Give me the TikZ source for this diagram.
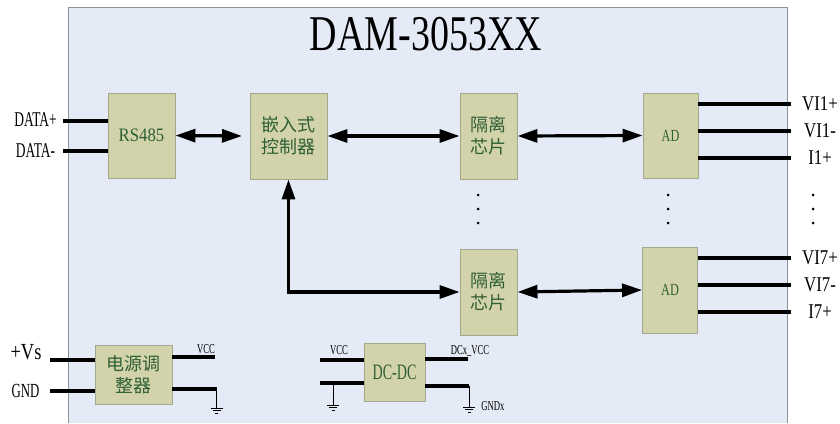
\documentclass[tikz,border=0pt]{standalone}
\usepackage{fontspec}
\setmainfont{Liberation Serif}
\newfontfamily\fnarrow[FakeStretch=0.64]{Liberation Serif}
\newfontfamily\fmid[FakeStretch=0.72]{Liberation Serif}
\newfontfamily\fwide[FakeStretch=0.8]{Liberation Serif}
\newfontfamily\fblk[FakeStretch=0.88]{Liberation Serif}
\newfontfamily\titlefont[FakeStretch=0.76]{Liberation Serif}
\newfontfamily\cjk{Noto Sans CJK SC}
\usetikzlibrary{arrows.meta}
\definecolor{panelfill}{HTML}{E4EBF6}
\definecolor{panelline}{HTML}{8A929C}
\definecolor{boxfill}{HTML}{D3D3AB}
\definecolor{boxline}{HTML}{A2A88C}
\definecolor{boxtext}{HTML}{2F5F34}
\tikzset{
  blk/.style={draw=boxline, fill=boxfill, line width=0.9pt, inner sep=0pt, align=center, text=boxtext},
  cjktext/.style={font=\cjk\fontsize{18}{22}\selectfont},
  lab/.style={font=\fwide\fontsize{21}{23}\selectfont, inner sep=0pt},
  leftlab/.style={font=\fnarrow\fontsize{21}{23}\selectfont, inner sep=0pt},
  smalllab/.style={font=\fnarrow\fontsize{13.5}{15}\selectfont, inner sep=0pt},
  wire/.style={line width=3.2pt},
  thinw/.style={line width=1pt},
  dblarrow/.style={line width=3.2pt, {Triangle[length=20pt,width=13pt]}-{Triangle[length=20pt,width=13pt]}},
}
\newcommand{\gndsym}[2]{%
  \draw[line width=1pt] (#1-6,#2) -- (#1+6,#2);
  \draw[line width=1pt] (#1-4,#2+2.5) -- (#1+4,#2+2.5);
  \draw[line width=1pt] (#1-1.5,#2+5) -- (#1+1.5,#2+5);
}
\begin{document}
\begin{tikzpicture}[x=1pt,y=-1pt]
\useasboundingbox (0,0) rectangle (840,423);
\fill[white] (0,0) rectangle (840,423);
% panel
\fill[panelfill] (68,7) rectangle (787,423);
\draw[panelline, line width=1pt] (68,423) -- (68,7) -- (787,7) -- (787,423);
\node[font=\titlefont\fontsize{50}{52}\selectfont, inner sep=0pt] (title) at (426,34) {DAM-3053XX};

% blocks
\node[blk, font=\fblk\fontsize{19}{21}\selectfont, minimum width=67pt, minimum height=85pt] (rs) at (141.5,135.5) {RS485};
\node[blk, cjktext, minimum width=77pt, minimum height=86pt] (ctrl) at (288.5,136) {嵌入式\\控制器};
\node[blk, cjktext, minimum width=57pt, minimum height=86pt] (iso1) at (488.5,136) {隔离\\芯片};
\node[blk, font=\fmid\fontsize{17}{19}\selectfont, minimum width=55pt, minimum height=85pt] (ad1) at (670.5,135.5) {AD};
\node[blk, cjktext, minimum width=57pt, minimum height=86pt] (iso2) at (488.5,292) {隔离\\芯片};
\node[blk, font=\fmid\fontsize{17}{19}\selectfont, minimum width=55pt, minimum height=86pt] (ad2) at (670,290) {AD};
\node[blk, cjktext, minimum width=77pt, minimum height=59pt] (pwr) at (133.5,374.5) {电源调\\整器};
\node[blk, font=\fnarrow\fontsize{22}{24}\selectfont, minimum width=61pt, minimum height=58pt] (dcdc) at (394.5,372) {DC-DC};

% arrows
\coordinate (rsend) at (242,136);
\draw[dblarrow] (rs.east) -- (rsend);
\draw[dblarrow] (ctrl.east) -- (iso1.west);
\draw[dblarrow] (iso1.east) -- (ad1.west);
\draw[dblarrow] (ctrl.south) |- (iso2.west);
\draw[dblarrow] (iso2.east) -- (ad2.west);

% left data lines
\node[leftlab] (dp) at (35.5,120) {DATA+};
\node[leftlab] (dm) at (35.5,151) {DATA-};
\coordinate (dpe) at (63,121);
\coordinate (dme) at (63,151);
\draw[wire] (dpe) -- (rs.west |- dpe);
\draw[wire] (dme) -- (rs.west |- dme);

% outputs
\foreach \n/\y/\t/\a in {o1/104/VI1+/ad1, o2/131/VI1-/ad1, o3/158/I1+/ad1, o4/258/VI7+/ad2, o5/285/VI7-/ad2, o6/312/I7+/ad2}{
  \coordinate (\n) at (791,\y);
  \node[lab] (\n l) at (820,\y) {\t};
  \draw[wire] (\a.east |- \n) -- (\n);
}

% dots
\foreach \x in {478,668,813}{
  \foreach \y in {195,209,223}{
    \fill (\x,\y) circle (1.5pt);
  }
}

% power regulator
\node[font=\fwide\fontsize{23}{25}\selectfont, inner sep=0pt] (vs) at (26,352) {+Vs};
\node[font=\fnarrow\fontsize{20}{22}\selectfont, inner sep=0pt] (gnd) at (25.5,391) {GND};
\coordinate (vsw) at (50,360);
\coordinate (gndw) at (50,391);
\draw[wire] (vsw) -- (pwr.west |- vsw);
\draw[wire] (gndw) -- (pwr.west |- gndw);
\coordinate (pv) at (215,357);
\coordinate (pg) at (216.5,389);
\draw[wire] (pwr.east |- pv) -- (pv);
\draw[wire] (pwr.east |- pg) -- (pg);
\node[smalllab] (pvl) at (206,349) {VCC};
\coordinate (pgb) at (216.5,408);
\draw[thinw] (pg) -- (pgb);
\gndsym{216.5}{408}

% DC-DC
\coordinate (dv) at (320,360);
\coordinate (dg) at (320,383);
\draw[wire] (dv) -- (dcdc.west |- dv);
\draw[wire] (dg) -- (dcdc.west |- dg);
\node[smalllab] (dvl) at (339,350) {VCC};
\coordinate (dgt) at (333,383);
\coordinate (dgb) at (333,405);
\draw[thinw] (dgt) -- (dgb);
\gndsym{333}{405}
\coordinate (ov) at (468,359);
\coordinate (og) at (469,386);
\draw[wire] (dcdc.east |- ov) -- (ov);
\draw[wire] (dcdc.east |- og) -- (og);
\node[smalllab] (ovl) at (470,351) {DCx\_VCC};
\coordinate (ogb) at (469,407);
\draw[thinw] (og) -- (ogb);
\gndsym{469}{407}
\node[smalllab] (ogl) at (493,406) {GNDx};
\end{tikzpicture}
\end{document}
